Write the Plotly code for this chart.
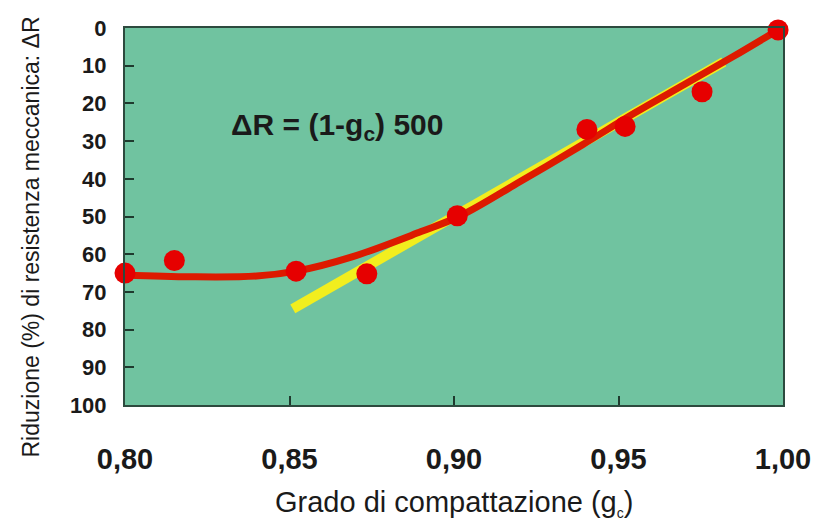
import plotly.graph_objects as go

# measured data points
pts_x = [0.800, 0.815, 0.852, 0.8735, 0.901, 0.9404, 0.952, 0.9754, 0.9985]
pts_y = [65.0, 61.7, 64.5, 65.2, 49.8, 26.9, 26.1, 16.9, 0.5]

# red fitted curve
curve_x = [0.800, 0.820, 0.840, 0.852, 0.869, 0.890, 0.902, 0.920, 0.939, 0.955, 0.970, 0.985, 0.9985]
curve_y = [65.5, 66.0, 65.8, 64.5, 60.7, 54.0, 49.8, 40.8, 31.0, 22.5, 15.0, 7.5, 0.5]

# yellow line  ΔR = (1-gc) 500
line_x = [0.851, 0.982]
line_y = [74.5, 9.0]

x_ticks = [0.80, 0.85, 0.90, 0.95, 1.00]
x_labels = ["0,80", "0,85", "0,90", "0,95", "1,00"]
y_ticks = [0, 10, 20, 30, 40, 50, 60, 70, 80, 90, 100]

FONT = "Liberation Sans, Arial, sans-serif"
NARROW = "Liberation Sans Narrow, Arial Narrow, Liberation Sans, Arial, sans-serif"

fig = go.Figure()
fig.add_trace(go.Scatter(x=line_x, y=line_y, mode="lines",
                         line=dict(color="#f2ee1e", width=10), cliponaxis=False,
                         hoverinfo="skip"))
fig.add_trace(go.Scatter(x=curve_x, y=curve_y, mode="lines",
                         line=dict(color="#dd1a00", width=7, shape="spline", smoothing=1.0),
                         cliponaxis=False, hoverinfo="skip"))
fig.add_trace(go.Scatter(x=pts_x, y=pts_y, mode="markers",
                         marker=dict(color="#e60000", size=21, line=dict(width=0)),
                         cliponaxis=False))

fig.update_layout(
    width=824, height=527,
    margin=dict(l=117, r=49, t=20, b=130, autoexpand=False),
    paper_bgcolor="white",
    plot_bgcolor="#70c3a0",
    showlegend=False,
    xaxis=dict(range=[0.80, 1.00], tickvals=x_ticks, ticktext=x_labels,
               ticks="inside", ticklen=9, tickwidth=1.5, tickcolor="#1f3a2e",
               showgrid=False, zeroline=False, automargin=False,
               showline=True, linecolor="#2d4a3e", linewidth=2, mirror=True,
               tickfont=dict(family=FONT, size=29, color="#1a1a1a", weight="bold"),
               ticklabelstandoff=27),
    yaxis=dict(range=[100, 0], tickvals=y_ticks,
               ticks="inside", ticklen=9, tickwidth=1.5, tickcolor="#1f3a2e",
               showgrid=False, zeroline=False, automargin=False,
               showline=True, linecolor="#2d4a3e", linewidth=2, mirror=True,
               tickfont=dict(family=FONT, size=22, color="#1a1a1a", weight="bold"),
               ticklabelstandoff=12),
    annotations=[
        dict(text="ΔR = (1-g<sub>c</sub>) 500", xref="x", yref="y", x=0.8315, y=26.0,
             xanchor="left", yanchor="middle", showarrow=False,
             font=dict(family=NARROW, size=30, color="#1a1a1a", weight="bold")),
        dict(text="Riduzione (%) di resistenza meccanica: ΔR", xref="paper", yref="paper",
             x=0, y=0.5, xshift=-95, yshift=-21, textangle=-90,
             xanchor="center", yanchor="middle", showarrow=False,
             font=dict(family=FONT, size=23, color="#1a1a1a")),
        dict(text="Grado di compattazione (g<sub><span style='font-size:14px'>c</span></sub>)",
             xref="paper", yref="paper",
             x=0.5, y=0, yshift=-98, xanchor="center", yanchor="middle", showarrow=False,
             font=dict(family=FONT, size=29, color="#1a1a1a")),
    ],
)

fig.write_html("out.html")
